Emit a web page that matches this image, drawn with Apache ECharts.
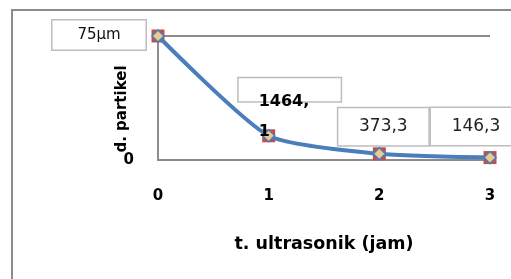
<!DOCTYPE html>
<html>
<head>
<meta charset="utf-8">
<script src="https://cdn.jsdelivr.net/npm/echarts@6/dist/echarts.min.js"></script>
<style>
  html, body { margin: 0; padding: 0; background: #fff; }
  #chart { width: 511px; height: 279px; }
</style>
</head>
<body>
<div id="chart"></div>
<script>
// jam ultrasonik vs ukuran partikel
var categories = ['0', '1', '2', '3'];
var values = [7500, 1464.1, 373.3, 146.3];
var pointLabels = ['75µm', '1464,\n1', '373,3', '146,3'];
var yTicks = [0, 7500];

var chart = echarts.init(document.getElementById('chart'), null, { renderer: 'canvas' });

var font = '"DejaVu Sans", sans-serif';
var boxBorder = '#bdbdbd';

// label placement per point (box position relative to the marker)
var labelStyles = [
  {
    position: 'inside', offset: [-59, -1],
    width: 93, padding: [12, 0, 1, 0], lineHeight: 16,
    fontSize: 15, fontFamily: font, color: '#111',
    backgroundColor: '#fff', borderColor: boxBorder, borderWidth: 1.5
  },
  {
    position: 'inside', offset: [21, -16],
    formatter: '{box| }\n{t1|1464,}\n{t2|1}',
    rich: {
      box: { width: 102, height: 23, lineHeight: 23, backgroundColor: '#fff',
        borderColor: boxBorder, borderWidth: 1.5, align: 'left' },
      t1: { fontSize: 16, fontWeight: 'bold', fontFamily: font, color: '#000',
        lineHeight: 2, align: 'left', padding: [0, 0, 0, 20] },
      t2: { fontSize: 16, fontWeight: 'bold', fontFamily: font, color: '#000',
        lineHeight: 58, align: 'left', padding: [0, 0, 0, 20] }
    }
  },
  {
    position: 'inside', offset: [4, -27],
    width: 90, padding: [18, 0, 3, 0], lineHeight: 16,
    fontSize: 17, fontFamily: font, color: '#222',
    backgroundColor: '#fff', borderColor: boxBorder, borderWidth: 1.5
  },
  {
    position: 'inside', offset: [-14, -31],
    width: 90, padding: [18, 0, 3, 0], lineHeight: 16,
    fontSize: 17, fontFamily: font, color: '#222',
    backgroundColor: '#fff', borderColor: boxBorder, borderWidth: 1.5
  }
];

var lineData = values.map(function (v, i) {
  return { value: v, label: Object.assign({ show: true, formatter: pointLabels[i] }, labelStyles[i]) };
});

var option = {
  animation: false,
  backgroundColor: '#fff',
  graphic: [{
    type: 'rect',
    shape: { x: 12, y: 10, width: 560, height: 320 },
    style: { fill: 'none', stroke: '#8c8c8c', lineWidth: 2 },
    silent: true
  }],
  grid: { left: 158, top: 36, right: 21, bottom: 119 },
  xAxis: {
    type: 'category',
    data: categories,
    boundaryGap: false,
    name: 't. ultrasonik (jam)',
    nameLocation: 'middle',
    nameGap: 75,
    nameTextStyle: { fontSize: 17.5, fontWeight: 'bold', fontFamily: font, color: '#000' },
    axisLine: { lineStyle: { color: '#8c8c8c', width: 2 } },
    axisTick: { show: false },
    axisLabel: { margin: 29, fontSize: 15, fontWeight: 'bold', fontFamily: font, color: '#000' },
    splitLine: { show: false }
  },
  yAxis: {
    type: 'value',
    min: yTicks[0],
    max: yTicks[1],
    interval: yTicks[1] - yTicks[0],
    name: 'd. partikel',
    nameLocation: 'middle',
    nameRotate: 90,
    nameGap: 28,
    nameMoveOverlap: false,
    nameTextStyle: { fontSize: 15, fontWeight: 'bold', fontFamily: font, color: '#000', padding: [0, 22, 0, 0] },
    axisLine: { show: true, lineStyle: { color: '#8c8c8c', width: 2 } },
    axisTick: { show: false },
    axisLabel: {
      margin: 24, fontSize: 15, fontWeight: 'bold', fontFamily: font, color: '#000',
      formatter: function (v) { return v === 0 ? '0' : ''; }
    },
    splitLine: { show: true, lineStyle: { color: '#8c8c8c', width: 2 } }
  },
  series: [
    {
      type: 'line',
      data: values,
      symbol: 'rect',
      symbolSize: 13,
      itemStyle: { color: '#c0504d' },
      lineStyle: { width: 0, opacity: 0 },
      z: 2
    },
    {
      type: 'line',
      data: lineData,
      smooth: 0.2,
      symbol: 'diamond',
      symbolSize: 12,
      lineStyle: { color: '#4a7ebb', width: 4 },
      itemStyle: { color: '#ecc98c', borderColor: '#4a7ebb', borderWidth: 1.5 },
      z: 3
    }
  ]
};

chart.setOption(option);
</script>
</body>
</html>
